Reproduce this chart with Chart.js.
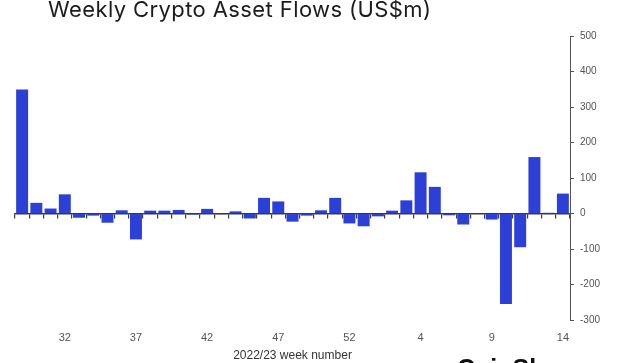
<!DOCTYPE html>
<html>
<head>
<meta charset="utf-8">
<script src="https://cdn.jsdelivr.net/npm/chart.js@4.4.1/dist/chart.umd.min.js"></script>
<style>
  html, body { margin: 0; padding: 0; background: #fff; }
  #wrap { position: relative; width: 619px; height: 363px; overflow: hidden; }
  #title { position: absolute; left: 48px; top: -4px; font: 22px Inter, "Liberation Sans", sans-serif; letter-spacing: 0.4px; color: #1c1c1c; white-space: nowrap; }
  #logo { position: absolute; left: 457px; top: 354px; font: bold 25px "Liberation Sans", Arial, sans-serif; color: #111; white-space: nowrap; }
  canvas { position: absolute; left: 0; top: 0; }
</style>
</head>
<body>
<div id="wrap">
  <canvas id="chart" width="619" height="363"></canvas>
  <div id="title">Weekly Crypto Asset Flows (US$m)</div>
  <div id="logo">CoinShares</div>
</div>
<script>
// week numbers, 2022 weeks 29..53 then 2023 weeks 1..14
var weeks = ["29","30","31","32","33","34","35","36","37","38","39","40","41","42","43","44","45","46","47","48","49","50","51","52","53",
             "1","2","3","4","5","6","7","8","9","10","11","12","13","14"];
// net flows, US$m
var flows = [349, 30, 14, 54, -12, -6, -26, 9, -73, 8, 8, 10, -3, 13, -2, 6, -14, 44, 34, -23, -6, 9, 44, -28, -36,
             -8, 8, 37, 116, 75, -5, -31, -1, -17, -255, -95, 159, 2, 56];
var shownWeeks = ["32","37","42","47","52","4","9","14"];
var yMin = -300, yMax = 500, yStep = 100;

var gray = "#555";
var dark = "#3a3a3a";

var config = {
  type: "bar",
  data: {
    labels: weeks,
    datasets: [{
      data: flows,
      backgroundColor: "#2c3fd6",
      barPercentage: 0.84,
      categoryPercentage: 1
    }]
  },
  options: {
    responsive: false,
    animation: false,
    layout: { padding: { left: 15, right: 0, top: 36, bottom: 0 } },
    plugins: { legend: { display: false }, tooltip: { enabled: false } },
    scales: {
      x: {
        position: "bottom",
        offset: true,
        grid: { display: false, drawTicks: false },
        border: { display: false },
        ticks: {
          autoSkip: false,
          maxRotation: 0,
          padding: 11,
          color: gray,
          font: { family: "Liberation Sans", size: 11 },
          callback: function (v) {
            var l = this.getLabelForValue(v);
            return shownWeeks.indexOf(l) >= 0 ? l : "";
          }
        },
        title: {
          display: true,
          text: "2022/23 week number",
          color: "#333",
          font: { family: "Liberation Sans", size: 12 },
          padding: { top: 4, bottom: 0 }
        },
        afterFit: function (s) { s.height = 43; }
      },
      zero: {
        type: "category",
        axis: "x",
        position: { y: 0 },
        offset: true,
        z: 1,
        ticks: { display: false },
        grid: { drawOnChartArea: false, drawTicks: true, tickLength: 4, color: dark, lineWidth: 1.2, offset: true },
        border: { color: dark, width: 1.5 }
      },
      y: {
        position: "right",
        min: yMin,
        max: yMax,
        ticks: {
          stepSize: yStep,
          padding: 6,
          color: gray,
          font: { family: "Liberation Sans", size: 10 }
        },
        grid: { drawOnChartArea: false, drawTicks: true, tickLength: 4, color: gray },
        border: { color: gray, width: 1 },
        afterFit: function (s) { s.width = 49; }
      }
    }
  }
};

var chart = new Chart(document.getElementById("chart"), config);
</script>
</body>
</html>
